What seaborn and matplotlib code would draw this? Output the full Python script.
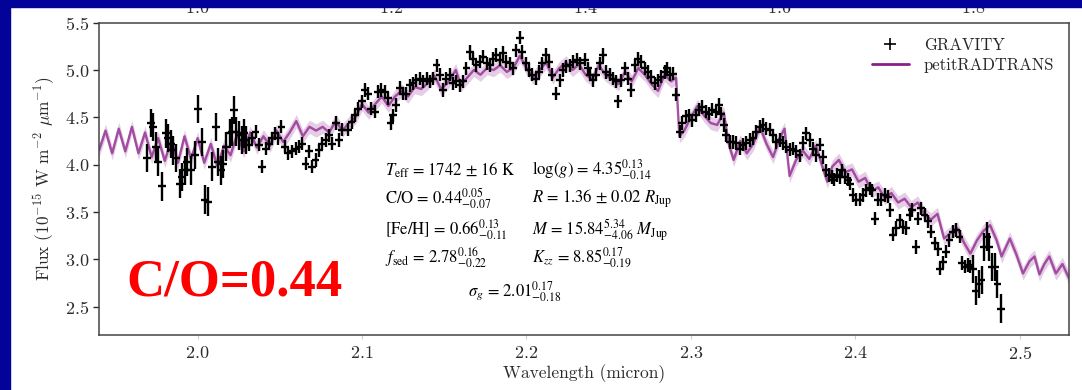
import matplotlib
matplotlib.use("Agg")
import matplotlib.pyplot as plt
from matplotlib.patches import Rectangle
from matplotlib.lines import Line2D
import seaborn as sns
import pandas as pd
import numpy as np

# GRAVITY K-band spectrum (micron, 1e-15 W m^-2 um^-1)
GRAVITY_WL = [
    1.9694, 1.9714, 1.9728, 1.9744, 1.9761, 1.9781, 1.9805, 1.9821, 1.9836, 1.9850,
    1.9870, 1.9890, 1.9907, 1.9923, 1.9937, 1.9957, 1.9984, 2.0000, 2.0028, 2.0044,
    2.0065, 2.0089, 2.0109, 2.0125, 2.0140, 2.0154, 2.0174, 2.0194, 2.0206, 2.0221,
    2.0235, 2.0251, 2.0267, 2.0281, 2.0296, 2.0312, 2.0332, 2.0352, 2.0373, 2.0393,
    2.0413, 2.0433, 2.0454, 2.0470, 2.0490, 2.0510, 2.0531, 2.0551, 2.0571, 2.0596,
    2.0616, 2.0636, 2.0656, 2.0677, 2.0697, 2.0717, 2.0737, 2.0758, 2.0778, 2.0798,
    2.0818, 2.0839, 2.0859, 2.0879, 2.0916, 2.0936, 2.0956, 2.0976, 2.0997, 2.1017,
    2.1037, 2.1057, 2.1078, 2.1098, 2.1118, 2.1139, 2.1159, 2.1173, 2.1189, 2.1209,
    2.1230, 2.1250, 2.1270, 2.1291, 2.1311, 2.1331, 2.1351, 2.1372, 2.1392, 2.1412,
    2.1432, 2.1453, 2.1473, 2.1493, 2.1513, 2.1534, 2.1554, 2.1574, 2.1595, 2.1615,
    2.1635, 2.1655, 2.1676, 2.1696, 2.1716, 2.1736, 2.1757, 2.1777, 2.1797, 2.1817,
    2.1838, 2.1858, 2.1878, 2.1898, 2.1919, 2.1939, 2.1959, 2.1975, 2.1996, 2.2016,
    2.2036, 2.2056, 2.2077, 2.2097, 2.2117, 2.2138, 2.2158, 2.2182, 2.2202, 2.2223,
    2.2243, 2.2263, 2.2283, 2.2308, 2.2328, 2.2354, 2.2375, 2.2385, 2.2405, 2.2425,
    2.2446, 2.2466, 2.2486, 2.2506, 2.2527, 2.2543, 2.2559, 2.2577, 2.2598, 2.2618,
    2.2638, 2.2658, 2.2679, 2.2699, 2.2719, 2.2739, 2.2760, 2.2780, 2.2800, 2.2820,
    2.2841, 2.2855, 2.2871, 2.2891, 2.2912, 2.2932, 2.2948, 2.2968, 2.2989, 2.3009,
    2.3029, 2.3049, 2.3070, 2.3090, 2.3110, 2.3131, 2.3151, 2.3171, 2.3185, 2.3200,
    2.3216, 2.3236, 2.3256, 2.3276, 2.3297, 2.3317, 2.3337, 2.3357, 2.3378, 2.3398,
    2.3418, 2.3439, 2.3459, 2.3479, 2.3499, 2.3520, 2.3540, 2.3560, 2.3580, 2.3601,
    2.3621, 2.3641, 2.3661, 2.3682, 2.3702, 2.3722, 2.3742, 2.3763, 2.3783, 2.3803,
    2.3824, 2.3840, 2.3856, 2.3872, 2.3888, 2.3905, 2.3921, 2.3937, 2.3953, 2.3969,
    2.3986, 2.4006, 2.4026, 2.4046, 2.4067, 2.4087, 2.4103, 2.4119, 2.4138, 2.4158,
    2.4178, 2.4198, 2.4213, 2.4229, 2.4249, 2.4269, 2.4290, 2.4310, 2.4330, 2.4346,
    2.4367, 2.4383, 2.4401, 2.4421, 2.4442, 2.4462, 2.4482, 2.4503, 2.4517, 2.4533,
    2.4553, 2.4573, 2.4593, 2.4614, 2.4634, 2.4650, 2.4666, 2.4683, 2.4699, 2.4715,
    2.4735, 2.4752, 2.4768, 2.4784, 2.4800, 2.4816, 2.4832, 2.4849, 2.4865, 2.4889,
]
GRAVITY_FLUX = [
    4.07, 4.44, 4.40, 4.19, 4.03, 3.77, 4.33, 4.28, 4.22, 4.15,
    4.07, 3.80, 3.87, 3.94, 4.03, 3.94, 4.10, 4.59, 4.24, 3.63,
    3.61, 3.98, 4.40, 4.03, 3.94, 4.01, 4.19, 4.33, 4.35, 4.58,
    4.35, 4.31, 4.26, 4.33, 4.26, 4.21, 4.28, 4.35, 4.21, 3.98,
    4.17, 4.22, 4.28, 4.33, 4.28, 4.40, 4.19, 4.12, 4.14, 4.17,
    4.19, 4.22, 4.01, 4.14, 3.98, 4.05, 4.15, 4.22, 4.26, 4.31,
    4.22, 4.44, 4.26, 4.37, 4.37, 4.45, 4.52, 4.59, 4.67, 4.79,
    4.75, 4.59, 4.56, 4.77, 4.79, 4.77, 4.70, 4.44, 4.52, 4.63,
    4.81, 4.75, 4.75, 4.84, 4.86, 4.89, 4.91, 4.88, 4.91, 4.88,
    4.91, 5.05, 4.95, 4.79, 4.91, 4.95, 4.86, 4.88, 4.84, 4.88,
    5.02, 5.19, 5.12, 5.05, 5.09, 5.14, 5.07, 5.05, 5.12, 5.16,
    5.11, 5.18, 5.09, 5.07, 5.02, 5.21, 5.34, 5.19, 5.07, 5.00,
    4.95, 4.91, 4.98, 5.07, 5.16, 5.09, 4.95, 4.75, 4.89, 5.00,
    5.04, 5.05, 5.09, 5.11, 5.07, 5.11, 5.02, 4.95, 4.89, 4.95,
    5.07, 5.16, 4.98, 4.95, 4.91, 4.88, 4.67, 4.89, 5.02, 4.91,
    4.79, 5.05, 5.12, 5.09, 5.02, 4.98, 4.93, 4.86, 4.89, 4.93,
    4.98, 5.02, 4.95, 4.96, 4.74, 4.35, 4.44, 4.51, 4.52, 4.47,
    4.52, 4.58, 4.61, 4.56, 4.54, 4.58, 4.56, 4.63, 4.54, 4.42,
    4.31, 4.24, 4.24, 4.23, 4.17, 4.21, 4.23, 4.26, 4.28, 4.35,
    4.40, 4.42, 4.38, 4.37, 4.31, 4.24, 4.26, 4.23, 4.19, 4.16,
    4.17, 4.14, 4.10, 4.23, 4.33, 4.26, 4.17, 4.10, 4.21, 4.08,
    3.94, 3.89, 3.87, 3.84, 3.89, 3.87, 3.94, 3.87, 3.84, 3.80,
    3.68, 3.63, 3.63, 3.68, 3.73, 3.75, 3.73, 3.43, 3.63, 3.63,
    3.68, 3.66, 3.52, 3.26, 3.33, 3.41, 3.34, 3.33, 3.47, 3.52,
    3.13, 3.43, 3.54, 3.47, 3.40, 3.29, 3.17, 3.11, 2.90, 2.97,
    3.08, 3.20, 3.29, 3.31, 3.24, 2.96, 2.92, 2.94, 2.92, 2.90,
    2.67, 2.74, 2.78, 3.13, 3.24, 3.13, 2.92, 2.92, 2.74, 2.48,
]
# error bars are larger at both ends of the band
ERR_CORE = 0.07
ERR_WING = 0.15
WING_EDGES = [2.03, 2.47]
XERR = 0.0024

# petitRADTRANS best-fit model
MODEL_WL = [
    1.940, 1.944, 1.948, 1.952, 1.956, 1.960, 1.964, 1.968, 1.972, 1.976,
    1.980, 1.984, 1.988, 1.992, 1.996, 2.000, 2.004, 2.008, 2.012, 2.016,
    2.020, 2.024, 2.028, 2.032, 2.036, 2.040, 2.044, 2.048, 2.052, 2.056,
    2.060, 2.064, 2.068, 2.072, 2.076, 2.080, 2.084, 2.088, 2.092, 2.096,
    2.100, 2.104, 2.108, 2.112, 2.116, 2.120, 2.124, 2.128, 2.132, 2.136,
    2.140, 2.144, 2.148, 2.152, 2.157, 2.160, 2.164, 2.168, 2.172, 2.176,
    2.180, 2.184, 2.188, 2.192, 2.196, 2.200, 2.204, 2.208, 2.212, 2.216,
    2.220, 2.224, 2.228, 2.232, 2.236, 2.240, 2.244, 2.248, 2.252, 2.256,
    2.260, 2.264, 2.268, 2.272, 2.276, 2.280, 2.284, 2.288, 2.291, 2.293,
    2.296, 2.300, 2.304, 2.308, 2.312, 2.316, 2.320, 2.323, 2.326, 2.330,
    2.334, 2.338, 2.342, 2.346, 2.350, 2.354, 2.357, 2.360, 2.364, 2.368,
    2.372, 2.376, 2.380, 2.383, 2.386, 2.390, 2.394, 2.398, 2.402, 2.406,
    2.410, 2.414, 2.418, 2.422, 2.426, 2.430, 2.434, 2.438, 2.442, 2.446,
    2.450, 2.454, 2.458, 2.462, 2.466, 2.470, 2.474, 2.478, 2.482, 2.486,
    2.489, 2.494, 2.498, 2.502, 2.506, 2.509, 2.512, 2.515, 2.518, 2.522,
    2.526, 2.530,
]
MODEL_FLUX = [
    4.15, 4.36, 4.12, 4.38, 4.14, 4.40, 4.12, 4.34, 4.08, 4.28,
    4.04, 4.26, 4.02, 4.30, 4.06, 4.28, 4.02, 4.22, 3.98, 4.20,
    4.10, 4.32, 4.14, 4.34, 4.18, 4.30, 4.20, 4.36, 4.24, 4.34,
    4.46, 4.30, 4.40, 4.36, 4.40, 4.34, 4.46, 4.36, 4.44, 4.50,
    4.64, 4.55, 4.64, 4.72, 4.62, 4.72, 4.78, 4.72, 4.82, 4.80,
    4.86, 4.94, 4.80, 4.86, 5.00, 4.84, 4.92, 5.00, 4.95, 5.02,
    5.00, 5.05, 4.98, 5.02, 5.15, 5.02, 4.92, 5.00, 5.08, 4.92,
    5.02, 5.08, 5.00, 5.06, 4.95, 4.90, 5.05, 4.95, 4.90, 4.85,
    4.98, 4.88, 5.02, 4.95, 4.85, 4.78, 4.95, 4.88, 4.92, 4.30,
    4.36, 4.50, 4.62, 4.52, 4.44, 4.42, 4.55, 4.22, 4.05, 4.25,
    4.12, 4.22, 4.40, 4.22, 4.08, 4.28, 4.38, 3.88, 4.05, 4.15,
    4.06, 4.20, 3.98, 3.82, 3.98, 4.05, 3.92, 3.95, 3.82, 3.86,
    3.72, 3.76, 3.65, 3.70, 3.60, 3.64, 3.55, 3.60, 3.48, 3.42,
    3.48, 3.22, 3.28, 3.33, 3.18, 3.06, 3.20, 3.30, 3.36, 3.20,
    3.03, 3.22, 3.05, 2.85, 2.98, 3.03, 2.84, 2.95, 3.03, 2.85,
    2.95, 2.80,
]
MODEL_SPREAD = 0.07

TOP_TICKS = [1.0, 1.2, 1.4, 1.6, 1.8]

PURPLE = "#8a1f8a"
BORDER = "#03039a"
INK = "#2b2b2b"

sns.set_theme(style="ticks")
plt.rcParams["font.family"] = ["cmr10", "DejaVu Serif"]
plt.rcParams["mathtext.fontset"] = "cm"
plt.rcParams["axes.formatter.use_mathtext"] = True
plt.rcParams["axes.unicode_minus"] = False

obs = pd.DataFrame({"wl": GRAVITY_WL, "flux": GRAVITY_FLUX})
obs["err"] = np.where((obs.wl < WING_EDGES[0]) | (obs.wl > WING_EDGES[1]), ERR_WING, ERR_CORE)
model = pd.DataFrame({"wl": MODEL_WL, "flux": MODEL_FLUX})

fig = plt.figure(figsize=(10.82, 3.90), dpi=100, facecolor="white")
ax = fig.add_axes([0.0915, 0.141, 0.8965, 0.8008])

# model band + best fit line
ax.fill_between(model.wl, model.flux - MODEL_SPREAD, model.flux + MODEL_SPREAD,
                color=PURPLE, alpha=0.22, lw=0, zorder=1)
sns.lineplot(data=model, x="wl", y="flux", ax=ax, color=PURPLE, lw=1.7,
             alpha=0.75, estimator=None, sort=False, zorder=2)

ax.errorbar(obs.wl, obs.flux, xerr=XERR, yerr=obs.err, fmt="none",
            ecolor="black", elinewidth=1.7, capsize=0, zorder=3)

ax.set_xlim(1.94, 2.53)
ax.set_ylim(2.2, 5.5)
ax.set_xticks([2.0, 2.1, 2.2, 2.3, 2.4, 2.5])
ax.set_yticks([2.5, 3.0, 3.5, 4.0, 4.5, 5.0, 5.5])
ax.tick_params(axis="y", length=4, width=1, pad=3, labelsize=13, colors=INK)
ax.tick_params(axis="x", length=3, width=0.8, pad=4, labelsize=13,
               color="#cccccc", labelcolor=INK)
ax.set_xlabel("Wavelength (micron)", fontsize=12.5, color=INK, labelpad=2)
ax.set_ylabel(r"Flux (10$^{-15}$ W m$^{-2}$ $\mu$m$^{-1}$)", fontsize=12.5,
              color=INK, labelpad=6)
for s in ax.spines.values():
    s.set_color("#444444")
    s.set_linewidth(1.1)

# top axis from the panel above, mostly hidden by the slide border
ax_top = ax.twiny()
ax_top.set_xlim(0.899, 1.899)
ax_top.set_xticks(TOP_TICKS)
ax_top.tick_params(axis="x", length=0, pad=4.5, labelsize=13, labelcolor=INK)
for s in ax_top.spines.values():
    s.set_visible(False)

handles = [Line2D([], [], marker="+", ls="none", color="black", markersize=8, mew=1.2),
           Line2D([], [], color=PURPLE, lw=2)]
ax.legend(handles, ["GRAVITY", "petitRADTRANS"], loc="upper right", frameon=False,
          fontsize=12, handlelength=2.2, handletextpad=0.9, labelspacing=0.3)

# retrieved parameters
stix = dict(fontsize=12, family="STIXGeneral", math_fontfamily="stix",
            color="black", va="center", ha="left", transform=ax.transAxes)
W, H = 970.0, 312.3
def axpos(px, py):
    return (px - 99) / W, (335 - py) / H

left_col = [r"$T_{\rm eff}$ = 1742 ± 16 K",
            r"C/O = $0.44^{0.05}_{-0.07}$",
            r"[Fe/H] = $0.66^{0.13}_{-0.11}$",
            r"$f_{\rm sed}$ = $2.78^{0.16}_{-0.22}$"]
right_col = [r"log($g$) = $4.35^{0.13}_{-0.14}$",
             r"$R$ = 1.36 ± 0.02 $R_{\rm Jup}$",
             r"$M$ = $15.84^{5.34}_{-4.06}$ $M_{\rm Jup}$",
             r"$K_{zz}$ = $8.85^{0.17}_{-0.19}$"]
rows_y = [170, 199, 230, 258]
for txt, py in zip(left_col, rows_y):
    ax.text(*axpos(385, py), txt, **stix)
for txt, py in zip(right_col, rows_y):
    ax.text(*axpos(532, py), txt, **stix)
ax.text(*axpos(468, 292), r"$\sigma_g$ = $2.01^{0.17}_{-0.18}$", **stix)

ax.text(*axpos(126, 295), "C/O=0.44", transform=ax.transAxes, color="red",
        fontsize=38, family="Liberation Serif", fontweight="bold",
        ha="left", va="baseline")

# slide border (left and top)
fig.add_artist(Rectangle((0, 0), 10 / 1082, 1, transform=fig.transFigure,
                         color=BORDER, zorder=10))
fig.add_artist(Rectangle((0, 1 - 7 / 390), 1, 7 / 390, transform=fig.transFigure,
                         color=BORDER, zorder=10))

fig.savefig("out.png", dpi=100, facecolor="white")
